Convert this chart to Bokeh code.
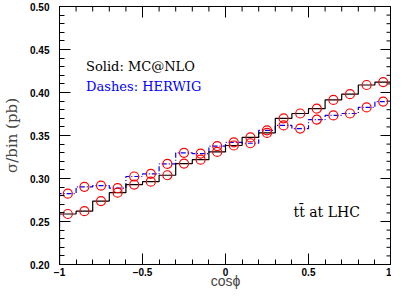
import math
from bokeh.plotting import figure
from bokeh.models import Range1d, FixedTicker, Label
from bokeh.embed import file_html
from bokeh.resources import INLINE

# ---- data ----
bin_edges = [round(-1.0 + 0.1 * i, 2) for i in range(21)]
bin_centers = [round(-0.95 + 0.1 * i, 2) for i in range(20)]
mcatnlo = [0.2587, 0.2620, 0.2737, 0.2835, 0.2929, 0.2963, 0.3038, 0.3174, 0.3219, 0.3309,
           0.3384, 0.3478, 0.3530, 0.3700, 0.3756, 0.3812, 0.3914, 0.3981, 0.4087, 0.4121]
herwig = [0.2824, 0.2903, 0.2918, 0.2888, 0.3023, 0.3053, 0.3170, 0.3298, 0.3290, 0.3377,
          0.3421, 0.3410, 0.3560, 0.3617, 0.3580, 0.3685, 0.3734, 0.3756, 0.3827, 0.3895]
x_ticks = [-1, -0.5, 0, 0.5, 1]
x_tick_labels = {-1: "\u22121", -0.5: "\u22120.5", 0: "0", 0.5: "0.5", 1: "1"}
y_ticks = [0.20, 0.25, 0.30, 0.35, 0.40, 0.45, 0.50]
y_tick_labels = {v: "%.2f" % v for v in y_ticks}
x_minor = [round(-1 + 0.1 * i, 2) for i in range(21)]
y_minor = [round(0.20 + 0.01 * i, 2) for i in range(31)]
X_MIN, X_MAX, Y_MIN, Y_MAX = -1, 1, 0.2, 0.5


def hist_path(edges, vals, base=0.0):
    xs, ys = [edges[0]], [base]
    for i, v in enumerate(vals):
        xs += [edges[i], edges[i + 1]]
        ys += [v, v]
    xs.append(edges[-1])
    ys.append(base)
    return xs, ys


p = figure(width=391, height=291, output_backend="svg", toolbar_location=None,
           x_range=Range1d(X_MIN, X_MAX), y_range=Range1d(Y_MIN, Y_MAX),
           min_border_left=50, min_border_right=0, min_border_top=6, min_border_bottom=0)
p.grid.visible = False
p.outline_line_color = "black"
p.outline_line_width = 1
p.background_fill_color = "white"
p.border_fill_color = "white"

MAJ, MIN = 11, 5


def style_axis(ax, ticks, minor, labels):
    ax.ticker = FixedTicker(ticks=ticks, minor_ticks=minor)
    ax.major_tick_in = MAJ
    ax.major_tick_out = 0
    ax.minor_tick_in = MIN
    ax.minor_tick_out = 0
    ax.axis_line_color = "black"
    ax.major_tick_line_color = "black"
    ax.minor_tick_line_color = "black"
    ax.major_label_overrides = labels
    ax.major_label_text_font = "Liberation Sans"
    ax.major_label_text_font_style = "bold"
    ax.major_label_text_font_size = "10px"
    ax.major_label_text_color = "black"


xax = p.xaxis[0]
style_axis(xax, x_ticks, x_minor, x_tick_labels)
xax.major_label_standoff = 3
xax.axis_label = "cos\u03d5"
xax.axis_label_text_font = "Liberation Sans"
xax.axis_label_text_font_style = "normal"
xax.axis_label_text_font_size = "14px"
xax.axis_label_standoff = -6

yax = p.yaxis[0]
style_axis(yax, y_ticks, y_minor, y_tick_labels)
yax.major_label_standoff = 10
yax.axis_label = "\u03c3/bin (pb)"
yax.axis_label_text_font = "DejaVu Serif"
yax.axis_label_text_font_style = "normal"
yax.axis_label_text_font_size = "15px"
yax.axis_label_standoff = 6

# mirrored inward ticks on top and right edges (half of each dash is clipped by the frame)
p.scatter(x_ticks, [Y_MAX] * len(x_ticks), marker="dash", size=2 * MAJ, angle=math.pi / 2,
          line_color="black", line_width=1)
p.scatter(x_minor, [Y_MAX] * len(x_minor), marker="dash", size=2 * MIN, angle=math.pi / 2,
          line_color="black", line_width=1)
p.scatter([X_MAX] * len(y_ticks), y_ticks, marker="dash", size=2 * MAJ,
          line_color="black", line_width=1)
p.scatter([X_MAX] * len(y_minor), y_minor, marker="dash", size=2 * MIN,
          line_color="black", line_width=1)

# histograms
hx, hy = hist_path(bin_edges, herwig)
p.line(hx, hy, line_color="blue", line_width=1.2, line_dash="5 2 1 2")
mx, my = hist_path(bin_edges, mcatnlo)
p.line(mx, my, line_color="black", line_width=1.2)

# markers
p.scatter(bin_centers, mcatnlo, size=9, marker="circle", fill_color=None,
          line_color="red", line_width=1.2)
p.scatter(bin_centers, herwig, size=9, marker="circle", fill_color=None,
          line_color="red", line_width=1.2)

# annotations
p.add_layout(Label(x=-0.84, y=0.430, text="Solid:  MC@NLO", text_font="DejaVu Serif",
                   text_font_size="13px", text_color="black", text_baseline="middle"))
p.add_layout(Label(x=-0.84, y=0.4065, text="Dashes:  HERWIG", text_font="DejaVu Serif",
                   text_font_size="13px", text_color="blue", text_baseline="middle"))
p.add_layout(Label(x=0.41, y=0.261, text="tt\u0304  at  LHC", text_font="DejaVu Serif",
                   text_font_size="14px", text_color="black", text_baseline="middle"))

open("out.html", "w").write(file_html(p, INLINE))
